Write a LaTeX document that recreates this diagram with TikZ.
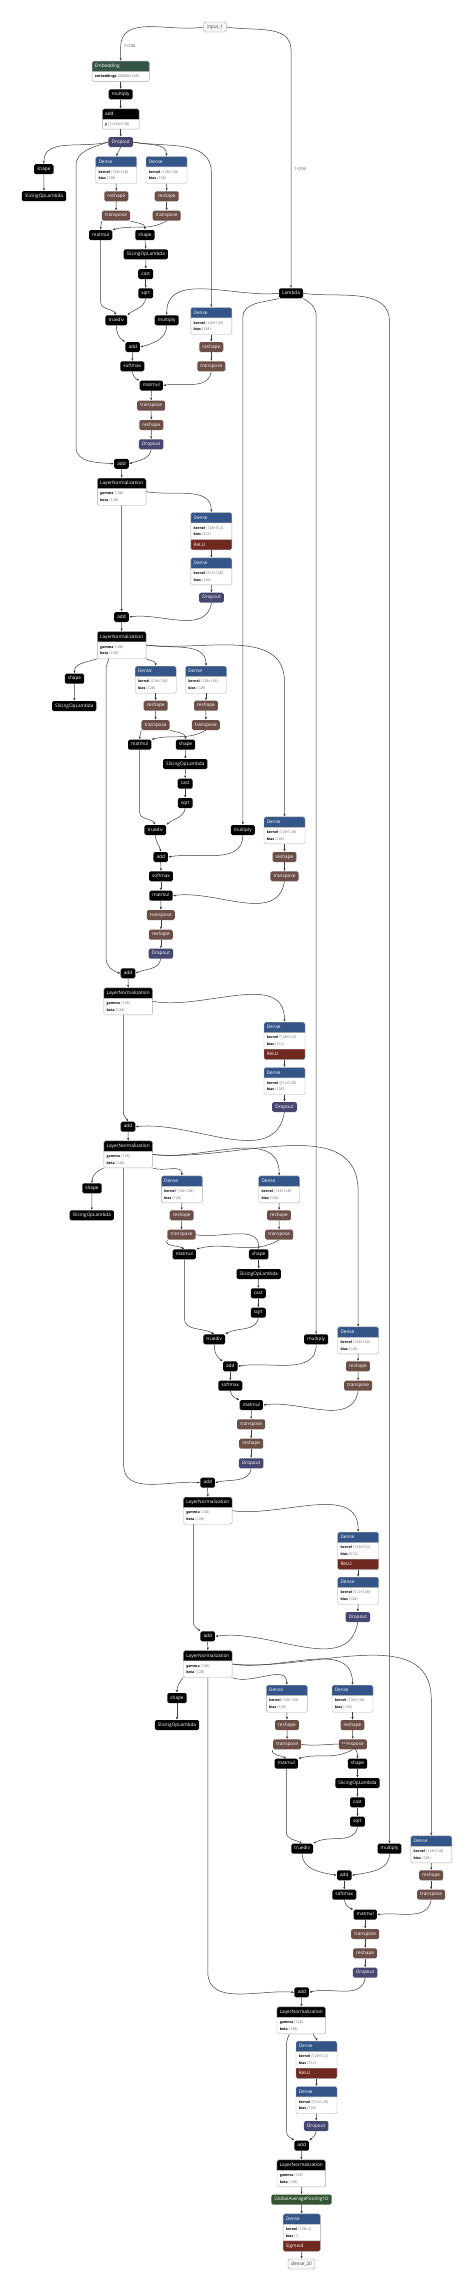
\documentclass[tikz,border=0pt]{standalone}
\usepackage{fontspec}
\setmainfont{Open Sans}
\newfontfamily\symfont{DejaVu Sans}
\usepackage{xcolor}
\usetikzlibrary{arrows.meta,shapes.multipart}
\definecolor{figedge}{RGB}{60,60,60}
\definecolor{figframe}{RGB}{170,170,170}
\definecolor{figval}{RGB}{100,100,100}
\definecolor{figlayer}{RGB}{51,85,136}
\definecolor{figact}{RGB}{112,41,33}
\definecolor{figdrop}{RGB}{69,71,112}
\definecolor{figshape}{RGB}{108,79,71}
\definecolor{figemb}{RGB}{51,85,68}
\definecolor{figpool}{RGB}{51,85,51}
\newcommand{\tshape}[1]{{\symfont ⟨}#1{\symfont ⟩}}
\newcommand{\kv}[2]{\strut\textbf{#1}\hspace{1pt}{\color{figval}\tshape{#2}}}
\newcommand{\kvfont}{\fontsize{3.6}{6.2}\selectfont\color{black}}
\tikzset{
  arr/.style ={draw=figedge, line width=0.5pt, -{Latex[length=2.6pt,width=2.2pt]}},
  opn/.style ={rectangle, rounded corners=1.6pt, fill=black, text=white, minimum height=10pt,
               inner xsep=3.1pt, inner ysep=0pt, text height=3.5pt, text depth=1pt,
               font=\fontsize{4.7}{6}\selectfont},
  ops/.style ={opn, fill=figshape},
  opd/.style ={opn, fill=figdrop},
  opp/.style ={opn, fill=figpool},
  io/.style  ={opn, fill=black!3, draw=black!45, line width=0.4pt, text=black!75},
  comp/.style={rectangle split, rectangle split parts=2, draw=figframe, line width=0.4pt,
               rounded corners=1.6pt, inner xsep=2.8pt, inner ysep=1.6pt, text=white,
               align=left, anchor=north, font=\fontsize{4.7}{6.8}\selectfont},
  dns/.style ={comp, text width=35.4pt, rectangle split part fill={figlayer,white}},
  dnsa/.style={dns, rectangle split parts=3, rectangle split part fill={figlayer,white,figact}},
  nrm/.style ={comp, text width=43.1pt, rectangle split part fill={black,white}},
  lbl/.style ={font=\fontsize{4.2}{5}\selectfont, text=black!65, anchor=west, inner sep=0.5pt},
}
\begin{document}
\begin{tikzpicture}[x=1pt,y=-1pt]
  \fill[white] (0,0) rectangle (474,2291);
  \useasboundingbox (0,0) rectangle (474,2291);
  % input, embedding
  \node[io] (in1) at (215,27) {input\_1};
  \node[comp, text width=51.7pt, rectangle split part fill={figemb,white}] (emb) at (120.7,61) {\strut Embedding\nodepart{two}\kvfont\kv{embeddings}{20000×128}};
  \node[opn] (mul0) at (120.7,94.3) {multiply};
  \node[comp, text width=31.1pt, rectangle split part fill={black,white}] (add0) at (120.7,108.7) {\strut add\nodepart{two}\kvfont\kv{y}{1×256×128}};
  \node[opd] (dr0) at (120.7,142) {Dropout};
  \node[opn] (lam) at (291,293.3) {Lambda};
  \node[lbl] (t1) at (123.5,46) {?×256};
  \node[lbl] (t2) at (294,168.7) {?×256};
  % block 1
  \node[opn] (sh1) at (43.8,169.2) {shape};
  \node[opn] (sl1) at (44,196.2) {SlicingOpLambda};
  \node[dns] (d1) at (116.2,156.3) {\strut Dense\nodepart{two}\kvfont\kv{kernel}{128×128}\\\kv{bias}{128}};
  \node[dns] (d2) at (166.5,156.3) {\strut Dense\nodepart{two}\kvfont\kv{kernel}{128×128}\\\kv{bias}{128}};
  \node[ops] (rs1) at (116.3,196.3) {reshape};
  \node[ops] (rs2) at (166.7,196.3) {reshape};
  \node[ops] (tp1) at (116,215.7) {transpose};
  \node[ops] (tp2) at (166.7,215.7) {transpose};
  \node[opn] (mm1) at (100.7,235) {matmul};
  \node[opn] (sh2) at (145,235) {shape};
  \node[opn] (sl2) at (145.8,254.3) {SlicingOpLambda};
  \node[opn] (ca1) at (145.7,274) {cast};
  \node[opn] (sq1) at (145.7,293.3) {sqrt};
  \node[opn] (td1) at (116.3,320.3) {truediv};
  \node[opn] (mu1) at (166.7,320.3) {multiply};
  \node[dns] (d3) at (211.3,307.3) {\strut Dense\nodepart{two}\kvfont\kv{kernel}{128×128}\\\kv{bias}{128}};
  \node[opn] (ad1) at (132.7,347) {add};
  \node[ops] (rs3) at (211.3,347) {reshape};
  \node[opn] (sm1) at (132.3,366.3) {softmax};
  \node[ops] (tp3) at (211.3,366.3) {transpose};
  \node[opn] (mm2) at (151.3,385.5) {matmul};
  \node[ops] (tp4) at (151.2,405.7) {transpose};
  \node[ops] (rs4) at (151.3,425) {reshape};
  \node[opd] (dr1) at (151.2,444.3) {Dropout};
  \node[opn] (ad2) at (121.5,463.8) {add};
  \node[nrm] (ln1) at (121.7,478) {\strut LayerNormalization\nodepart{two}\kvfont\kv{gamma}{128}\\\kv{beta}{128}};
  \node[dnsa] (d4) at (211.3,512.3) {\strut Dense\nodepart{two}\kvfont\kv{kernel}{128×512}\\\kv{bias}{512}\nodepart{three}\strut ReLU};
  \node[dns] (d5) at (211.3,557.7) {\strut Dense\nodepart{two}\kvfont\kv{kernel}{512×128}\\\kv{bias}{128}};
  \node[opd] (dr2) at (211.5,597.7) {Dropout};
  \node[opn] (ad3) at (121.5,617) {add};
  \node[nrm] (ln2) at (121.7,631.3) {\strut LayerNormalization\nodepart{two}\kvfont\kv{gamma}{128}\\\kv{beta}{128}};
  % block 2
  \node[opn] (sh3) at (74.5,678.7) {shape};
  \node[opn] (sl3) at (74.3,706) {SlicingOpLambda};
  \node[dns] (d6) at (155.7,666) {\strut Dense\nodepart{two}\kvfont\kv{kernel}{128×128}\\\kv{bias}{128}};
  \node[dns] (d7) at (206,666) {\strut Dense\nodepart{two}\kvfont\kv{kernel}{128×128}\\\kv{bias}{128}};
  \node[ops] (rs5) at (155.7,705.7) {reshape};
  \node[ops] (rs6) at (206,705.7) {reshape};
  \node[ops] (tp5) at (155.5,725) {transpose};
  \node[ops] (tp6) at (205.8,725) {transpose};
  \node[opn] (mm3) at (139.7,744.7) {matmul};
  \node[opn] (sh4) at (185.5,744.7) {shape};
  \node[opn] (sl4) at (185.3,764) {SlicingOpLambda};
  \node[opn] (ca2) at (185.2,783.7) {cast};
  \node[opn] (sq2) at (185.2,803) {sqrt};
  \node[opn] (td2) at (155.3,830) {truediv};
  \node[opn] (mu2) at (242.8,830) {multiply};
  \node[dns] (d8) at (284.5,816.7) {\strut Dense\nodepart{two}\kvfont\kv{kernel}{128×128}\\\kv{bias}{128}};
  \node[opn] (ad4) at (160.7,857) {add};
  \node[ops] (rs7) at (284.5,857) {reshape};
  \node[opn] (sm2) at (161,876.3) {softmax};
  \node[ops] (tp7) at (284.5,876.3) {transpose};
  \node[opn] (mm4) at (161,895.7) {matmul};
  \node[ops] (tp8) at (160.8,915) {transpose};
  \node[ops] (rs8) at (160.8,934.7) {reshape};
  \node[opd] (dr3) at (160.8,953.7) {Dropout};
  \node[opn] (ad5) at (128,973.3) {add};
  \node[nrm] (ln3) at (128.2,987.7) {\strut LayerNormalization\nodepart{two}\kvfont\kv{gamma}{128}\\\kv{beta}{128}};
  \node[dnsa] (d9) at (284.5,1022) {\strut Dense\nodepart{two}\kvfont\kv{kernel}{128×512}\\\kv{bias}{512}\nodepart{three}\strut ReLU};
  \node[dns] (d10) at (284.5,1067.3) {\strut Dense\nodepart{two}\kvfont\kv{kernel}{512×128}\\\kv{bias}{128}};
  \node[opd] (dr4) at (284.5,1107) {Dropout};
  \node[opn] (ad6) at (128,1126.7) {add};
  \node[nrm] (ln4) at (128.2,1140.7) {\strut LayerNormalization\nodepart{two}\kvfont\kv{gamma}{128}\\\kv{beta}{128}};
  % block 3
  \node[opn] (sh5) at (92,1188.3) {shape};
  \node[opn] (sl5) at (91.8,1215.3) {SlicingOpLambda};
  \node[dns] (d11) at (181.8,1175.7) {\strut Dense\nodepart{two}\kvfont\kv{kernel}{128×128}\\\kv{bias}{128}};
  \node[dns] (d12) at (279.2,1175.7) {\strut Dense\nodepart{two}\kvfont\kv{kernel}{128×128}\\\kv{bias}{128}};
  \node[ops] (rs9) at (181.7,1215.3) {reshape};
  \node[ops] (rs10) at (279,1215.3) {reshape};
  \node[ops] (tp9) at (181.5,1234.7) {transpose};
  \node[ops] (tp10) at (279.2,1234.7) {transpose};
  \node[opn] (mm5) at (184.3,1254.3) {matmul};
  \node[opn] (sh6) at (258.7,1254.3) {shape};
  \node[opn] (sl6) at (258.7,1274) {SlicingOpLambda};
  \node[opn] (ca3) at (258.3,1293.3) {cast};
  \node[opn] (sq3) at (258.3,1312.7) {sqrt};
  \node[opn] (td3) at (214.2,1339.3) {truediv};
  \node[opn] (mu3) at (316.2,1339.3) {multiply};
  \node[dns] (d13) at (358.2,1326.7) {\strut Dense\nodepart{two}\kvfont\kv{kernel}{128×128}\\\kv{bias}{128}};
  \node[opn] (ad7) at (230.3,1366.3) {add};
  \node[ops] (rs11) at (358,1366.3) {reshape};
  \node[opn] (sm3) at (230.3,1385.7) {softmax};
  \node[ops] (tp11) at (358.2,1385.7) {transpose};
  \node[opn] (mm6) at (251.3,1405) {matmul};
  \node[ops] (tp12) at (251.2,1424.3) {transpose};
  \node[ops] (rs12) at (251.2,1443.7) {reshape};
  \node[opd] (dr5) at (251.2,1463.3) {Dropout};
  \node[opn] (ad8) at (207.7,1482.7) {add};
  \node[nrm] (ln5) at (207.8,1497) {\strut LayerNormalization\nodepart{two}\kvfont\kv{gamma}{128}\\\kv{beta}{128}};
  \node[dnsa] (d14) at (358.2,1532) {\strut Dense\nodepart{two}\kvfont\kv{kernel}{128×512}\\\kv{bias}{512}\nodepart{three}\strut ReLU};
  \node[dns] (d15) at (358.2,1577) {\strut Dense\nodepart{two}\kvfont\kv{kernel}{512×128}\\\kv{bias}{128}};
  \node[opd] (dr6) at (357.8,1617) {Dropout};
  \node[opn] (ad9) at (207.7,1636.3) {add};
  \node[nrm] (ln6) at (207.8,1650.3) {\strut LayerNormalization\nodepart{two}\kvfont\kv{gamma}{128}\\\kv{beta}{128}};
  % block 4
  \node[opn] (sh7) at (177,1698) {shape};
  \node[opn] (sl7) at (177,1725) {SlicingOpLambda};
  \node[dns] (d16) at (286.8,1685) {\strut Dense\nodepart{two}\kvfont\kv{kernel}{128×128}\\\kv{bias}{128}};
  \node[dns] (d17) at (352.5,1685) {\strut Dense\nodepart{two}\kvfont\kv{kernel}{128×128}\\\kv{bias}{128}};
  \node[ops] (rs13) at (287,1725) {reshape};
  \node[ops] (rs14) at (352.5,1725) {reshape};
  \node[ops] (tp13) at (287.2,1744.3) {transpose};
  \node[ops] (tp14) at (352.8,1744.3) {transpose};
  \node[opn] (mm7) at (286.3,1763.7) {matmul};
  \node[opn] (sh8) at (357.5,1763.7) {shape};
  \node[opn] (sl8) at (357.5,1783) {SlicingOpLambda};
  \node[opn] (ca4) at (357.5,1802.3) {cast};
  \node[opn] (sq4) at (357.5,1821.7) {sqrt};
  \node[opn] (td4) at (302.2,1848.7) {truediv};
  \node[opn] (mu4) at (389.5,1848.7) {multiply};
  \node[dns] (d18) at (431.3,1835.7) {\strut Dense\nodepart{two}\kvfont\kv{kernel}{128×128}\\\kv{bias}{128}};
  \node[opn] (ad10) at (344.3,1875.3) {add};
  \node[ops] (rs15) at (431.2,1875.3) {reshape};
  \node[opn] (sm4) at (344.3,1894.7) {softmax};
  \node[ops] (tp15) at (431.2,1894.7) {transpose};
  \node[opn] (mm8) at (365.2,1914.7) {matmul};
  \node[ops] (tp16) at (365.2,1934) {transpose};
  \node[ops] (rs16) at (365.2,1953.3) {reshape};
  \node[opd] (dr7) at (365.2,1972.7) {Dropout};
  \node[opn] (ad11) at (301.7,1992.3) {add};
  \node[nrm] (ln7) at (301.3,2006.7) {\strut LayerNormalization\nodepart{two}\kvfont\kv{gamma}{128}\\\kv{beta}{128}};
  \node[dnsa] (d19) at (316.5,2041) {\strut Dense\nodepart{two}\kvfont\kv{kernel}{128×512}\\\kv{bias}{512}\nodepart{three}\strut ReLU};
  \node[dns] (d20) at (316.5,2086.3) {\strut Dense\nodepart{two}\kvfont\kv{kernel}{512×128}\\\kv{bias}{128}};
  \node[opd] (dr8) at (316.2,2126) {Dropout};
  \node[opn] (ad12) at (301.7,2145.7) {add};
  \node[nrm] (ln8) at (301.3,2159.7) {\strut LayerNormalization\nodepart{two}\kvfont\kv{gamma}{128}\\\kv{beta}{128}};
  \node[opp] (gap) at (301.5,2199.5) {GlobalAveragePooling1D};
  \node[dnsa, text width=31.7pt] (d21) at (301.7,2213.7) {\strut Dense\nodepart{two}\kvfont\kv{kernel}{128×1}\\\kv{bias}{1}\nodepart{three}\strut Sigmoid};
  \node[io] (out) at (301.5,2264) {dense\_20};

  % connectors: top
  \draw[arr] (in1.west) to[out=190,in=90] (emb.north |- 0,47) -- (emb.north);
  \draw[arr] (in1.east) to[out=-10,in=90] (lam.north |- 0,50) -- (lam.north);
  \draw[arr] (emb.south) -- (mul0.north);
  \draw[arr] (mul0.south) -- (add0.north);
  \draw[arr] (add0.south) -- (dr0.north);
  % connectors: block 1
  \draw[arr] (dr0.west) to[out=195,in=90] (sh1.north);
  \draw[arr] (dr0.west) to[out=200,in=90] (76,166) -- (76,447) to[out=-90,in=175] (ad2.west);
  \draw[arr] (dr0.south) -- (d1.north);
  \draw[arr] (dr0.east) to[out=-15,in=90] (d2.north);
  \draw[arr] (dr0.east) to[out=-10,in=90] (d3.north |- 0,172) -- (d3.north);
  \draw[arr] (sh1.south) -- (sl1.north);
  \draw[arr] (d1.south) -- (rs1.north);
  \draw[arr] (rs1.south) -- (tp1.north);
  \draw[arr] (d2.south) -- (rs2.north);
  \draw[arr] (rs2.south) -- (tp2.north);
  \draw[arr] (tp1.south west) to[out=-100,in=90] (mm1.north);
  \draw[arr] (tp1.south east) to[out=-20,in=90] (sh2.north);
  \draw[arr] (tp2.south) to[out=-150,in=15] (mm1.north east);
  \draw[arr] (sh2.south) -- (sl2.north);
  \draw[arr] (sl2.south) -- (ca1.north);
  \draw[arr] (ca1.south) -- (sq1.north);
  \draw[arr] (mm1.south) -- (mm1.south |- 0,302) to[out=-90,in=120] (td1.north);
  \draw[arr] (sq1.south) to[out=-100,in=40] (td1.north east);
  \draw[arr] (lam.west) to[out=186,in=90] (mu1.north);
  \draw[arr] (lam.south west) to[out=195,in=90] (mu2.north |- 0,318) -- (mu2.north);
  \draw[arr] (lam.south east) to[out=-30,in=90] (mu3.north |- 0,316) -- (mu3.north);
  \draw[arr] (lam.east) to[out=-8,in=90] (mu4.north |- 0,322) -- (mu4.north);
  \draw[arr] (td1.south) to[out=-90,in=150] (ad1.north west);
  \draw[arr] (mu1.south) to[out=-90,in=15] (ad1.east);
  \draw[arr] (ad1.south) -- (sm1.north);
  \draw[arr] (sm1.south) to[out=-80,in=160] (mm2.north west);
  \draw[arr] (d3.south) -- (rs3.north);
  \draw[arr] (rs3.south) -- (tp3.north);
  \draw[arr] (tp3.south) to[out=-100,in=10] (mm2.east);
  \draw[arr] (mm2.south) -- (tp4.north);
  \draw[arr] (tp4.south) -- (rs4.north);
  \draw[arr] (rs4.south) -- (dr1.north);
  \draw[arr] (dr1.south) to[out=-100,in=20] (ad2.east);
  \draw[arr] (ad2.south) -- (ln1.north);
  \draw[arr] (ln1.east) to[out=-10,in=90] (d4.north);
  \draw[arr] (ln1.south) -- (ad3.north);
  \draw[arr] (d4.south) -- (d5.north);
  \draw[arr] (d5.south) -- (dr2.north);
  \draw[arr] (dr2.south) to[out=-100,in=8] (ad3.east);
  \draw[arr] (ad3.south) -- (ln2.north);
  % connectors: block 2
  \draw[arr] (ln2.south west) to[out=200,in=90] (sh3.north);
  \draw[arr] (ln2.south -| 109,0) to[out=-100,in=90] (106,668) -- (106,958) to[out=-90,in=165] (ad5.west);
  \draw[arr] (ln2.south east) to[out=-25,in=90] (d6.north);
  \draw[arr] (ln2.east) to[out=-10,in=90] (d7.north);
  \draw[arr] (ln2.east) to[out=-7,in=90] (d8.north |- 0,682) -- (d8.north);
  \draw[arr] (sh3.south) -- (sl3.north);
  \draw[arr] (d6.south) -- (rs5.north);
  \draw[arr] (rs5.south) -- (tp5.north);
  \draw[arr] (d7.south) -- (rs6.north);
  \draw[arr] (rs6.south) -- (tp6.north);
  \draw[arr] (tp5.south west) to[out=-100,in=90] (mm3.north);
  \draw[arr] (tp5.south east) to[out=-20,in=90] (sh4.north);
  \draw[arr] (tp6.south) to[out=-150,in=15] (mm3.north east);
  \draw[arr] (sh4.south) -- (sl4.north);
  \draw[arr] (sl4.south) -- (ca2.north);
  \draw[arr] (ca2.south) -- (sq2.north);
  \draw[arr] (mm3.south) -- (mm3.south |- 0,812) to[out=-90,in=120] (td2.north);
  \draw[arr] (sq2.south) to[out=-100,in=40] (td2.north east);
  \draw[arr] (td2.south) to[out=-90,in=100] (ad4.north);
  \draw[arr] (mu2.south) to[out=-90,in=10] (ad4.east);
  \draw[arr] (ad4.south) -- (sm2.north);
  \draw[arr] (sm2.south) -- (mm4.north);
  \draw[arr] (d8.south) -- (rs7.north);
  \draw[arr] (rs7.south) -- (tp7.north);
  \draw[arr] (tp7.south) to[out=-100,in=8] (mm4.east);
  \draw[arr] (mm4.south) -- (tp8.north);
  \draw[arr] (tp8.south) -- (rs8.north);
  \draw[arr] (rs8.south) -- (dr3.north);
  \draw[arr] (dr3.south) to[out=-100,in=25] (ad5.east);
  \draw[arr] (ad5.south) -- (ln3.north);
  \draw[arr] (ln3.east) to[out=-10,in=90] (d9.north);
  \draw[arr] (ln3.south -| 123.3,0) -- (123.3,1112) to[out=-90,in=120] (ad6.north);
  \draw[arr] (d9.south) -- (d10.north);
  \draw[arr] (d10.south) -- (dr4.north);
  \draw[arr] (dr4.south) to[out=-100,in=6] (ad6.east);
  \draw[arr] (ad6.south) -- (ln4.north);
  % connectors: block 3
  \draw[arr] (ln4.south west) to[out=200,in=90] (sh5.north);
  \draw[arr] (ln4.south -| 123.7,0) -- (123.7,1465) to[out=-90,in=175] (ad8.west);
  \draw[arr] (ln4.south east) to[out=-20,in=90] (d11.north);
  \draw[arr] (ln4.east) to[out=-8,in=90] (d12.north);
  \draw[arr] (ln4.east) to[out=-6,in=90] (d13.north |- 0,1192) -- (d13.north);
  \draw[arr] (sh5.south) -- (sl5.north);
  \draw[arr] (d11.south) -- (rs9.north);
  \draw[arr] (rs9.south) -- (tp9.north);
  \draw[arr] (d12.south) -- (rs10.north);
  \draw[arr] (rs10.south) -- (tp10.north);
  \draw[arr] (tp9.south west) to[out=-120,in=150] (mm5.north);
  \draw[arr] (tp9.east) to[out=-10,in=90] (sh6.north);
  \draw[arr] (tp10.south) to[out=-150,in=15] (mm5.north east);
  \draw[arr] (sh6.south) -- (sl6.north);
  \draw[arr] (sl6.south) -- (ca3.north);
  \draw[arr] (ca3.south) -- (sq3.north);
  \draw[arr] (mm5.south) -- (mm5.south |- 0,1318) to[out=-90,in=150] (td3.north);
  \draw[arr] (sq3.south) to[out=-100,in=30] (td3.north east);
  \draw[arr] (td3.south) to[out=-90,in=150] (ad7.north west);
  \draw[arr] (mu3.south) to[out=-90,in=10] (ad7.east);
  \draw[arr] (ad7.south) -- (sm3.north);
  \draw[arr] (sm3.south) to[out=-80,in=160] (mm6.north west);
  \draw[arr] (d13.south) -- (rs11.north);
  \draw[arr] (rs11.south) -- (tp11.north);
  \draw[arr] (tp11.south) to[out=-100,in=8] (mm6.east);
  \draw[arr] (mm6.south) -- (tp12.north);
  \draw[arr] (tp12.south) -- (rs12.north);
  \draw[arr] (rs12.south) -- (dr5.north);
  \draw[arr] (dr5.south) to[out=-100,in=15] (ad8.east);
  \draw[arr] (ad8.south) -- (ln5.north);
  \draw[arr] (ln5.east) to[out=-8,in=90] (d14.north);
  \draw[arr] (ln5.south -| 193.3,0) -- (193.3,1622) to[out=-90,in=140] (ad9.north west);
  \draw[arr] (d14.south) -- (d15.north);
  \draw[arr] (d15.south) -- (dr6.north);
  \draw[arr] (dr6.south) to[out=-100,in=8] (ad9.east);
  \draw[arr] (ad9.south) -- (ln6.north);
  % connectors: block 4
  \draw[arr] (ln6.south west) to[out=230,in=90] (sh7.north);
  \draw[arr] (ln6.south) -- (ln6.south |- 0,1972) to[out=-90,in=175] (ad11.west);
  \draw[arr] (ln6.south east) to[out=-20,in=90] (d16.north);
  \draw[arr] (ln6.east) to[out=-10,in=90] (d17.north);
  \draw[arr] (ln6.east) to[out=-6,in=90] (d18.north |- 0,1700) -- (d18.north);
  \draw[arr] (sh7.south) -- (sl7.north);
  \draw[arr] (d16.south) -- (rs13.north);
  \draw[arr] (rs13.south) -- (tp13.north);
  \draw[arr] (d17.south) -- (rs14.north);
  \draw[arr] (rs14.south) -- (tp14.north);
  \draw[arr] (tp13.south west) to[out=-120,in=150] (mm7.north);
  \draw[arr] (tp13.east) to[out=-10,in=90] (sh8.north);
  \draw[arr] (tp14.south) to[out=-150,in=15] (mm7.north east);
  \draw[arr] (sh8.south) -- (sl8.north);
  \draw[arr] (sl8.south) -- (ca4.north);
  \draw[arr] (ca4.south) -- (sq4.north);
  \draw[arr] (mm7.south) -- (mm7.south |- 0,1832) to[out=-90,in=150] (td4.north);
  \draw[arr] (sq4.south) to[out=-100,in=30] (td4.north east);
  \draw[arr] (td4.south) to[out=-90,in=170] (ad10.west);
  \draw[arr] (mu4.south) to[out=-90,in=10] (ad10.east);
  \draw[arr] (ad10.south) -- (sm4.north);
  \draw[arr] (sm4.south) to[out=-80,in=160] (mm8.north west);
  \draw[arr] (d18.south) -- (rs15.north);
  \draw[arr] (rs15.south) -- (tp15.north);
  \draw[arr] (tp15.south) to[out=-100,in=8] (mm8.east);
  \draw[arr] (mm8.south) -- (tp16.north);
  \draw[arr] (tp16.south) -- (rs16.north);
  \draw[arr] (rs16.south) -- (dr7.north);
  \draw[arr] (dr7.south) to[out=-100,in=15] (ad11.east);
  \draw[arr] (ad11.south) -- (ln7.north);
  \draw[arr] (ln7.south -| 313,0) to[out=-80,in=90] (d19.north);
  \draw[arr] (ln7.south -| 289.5,0) to[out=-110,in=90] (286.7,2042) -- (286.7,2132) to[out=-90,in=140] (ad12.north west);
  \draw[arr] (d19.south) -- (d20.north);
  \draw[arr] (d20.south) -- (dr8.north);
  \draw[arr] (dr8.south) to[out=-100,in=40] (ad12.north east);
  \draw[arr] (ad12.south) -- (ln8.north);
  \draw[arr] (ln8.south) -- (gap.north);
  \draw[arr] (gap.south) -- (d21.north);
  \draw[arr] (d21.south) -- (out.north);
\end{tikzpicture}
\end{document}
